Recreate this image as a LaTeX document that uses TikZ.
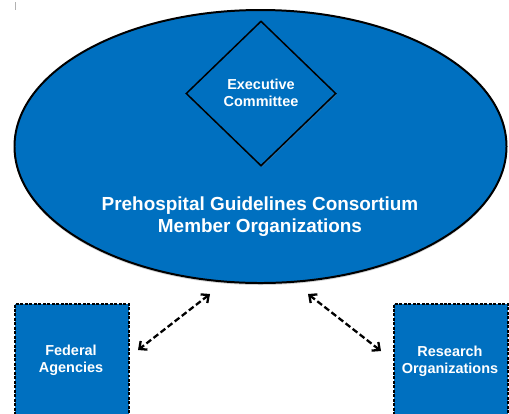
\documentclass[tikz,border=0pt]{standalone}
\usepackage{fontspec}
\setmainfont{Liberation Sans}
\usetikzlibrary{shapes.geometric,arrows.meta,shadows}
\definecolor{pgblue}{RGB}{0,112,192}
\tikzset{
  orgtext/.style={text=white,font=\bfseries\fontsize{14.5}{17}\selectfont,align=center},
  bigtext/.style={text=white,font=\bfseries\fontsize{19}{22}\selectfont,align=center},
  sidebox/.style={draw=black,fill=pgblue,line width=1.7pt,dash pattern=on 3pt off 1.5pt,minimum width=114bp,minimum height=130bp,inner sep=0pt},
  link/.style={draw=black,line width=2.3pt,dash pattern=on 6pt off 3pt,{Straight Barb[length=6pt,width=11pt]}-{Straight Barb[length=6pt,width=11pt]}}
}
\begin{document}
\begin{tikzpicture}[x=1bp,y=-1bp]
\useasboundingbox (0,0) rectangle (509,413);
\clip (0,0) rectangle (509,413);
\draw[gray!60,line width=1pt] (15,2) -- (15,10);
\node[ellipse,draw=black,fill=pgblue,line width=2pt,minimum width=492bp,minimum height=273bp,inner sep=0pt,
  drop shadow={shadow xshift=0pt,shadow yshift=-2pt,opacity=0.35}] (ell) at (260.5,146.5) {};
\node[diamond,draw=black,fill=pgblue,line width=1.5pt,minimum width=150bp,minimum height=145bp,inner sep=0pt,
  drop shadow={shadow xshift=1pt,shadow yshift=-1.5pt,opacity=0.3}] (dia) at (261,93.5) {};
\node[orgtext] (exec) at (261,93) {Executive\\Committee};
\node[bigtext] (pgc) at (260,217) {Prehospital Guidelines Consortium\\Member Organizations};
\node[sidebox,anchor=north west] (fed) at (14,303) {};
\node[orgtext] (fedt) at (71,360.5) {Federal\\Agencies};
\node[sidebox,anchor=north west] (res) at (393,303) {};
\node[orgtext] (rest) at (450,361) {Research\\Organizations};
\coordinate (l1) at (210,294);
\coordinate (l2) at (138,350);
\coordinate (r1) at (308,294);
\coordinate (r2) at (381,351);
\draw[link] (l1) -- (l2);
\draw[link] (r1) -- (r2);
\end{tikzpicture}
\end{document}
